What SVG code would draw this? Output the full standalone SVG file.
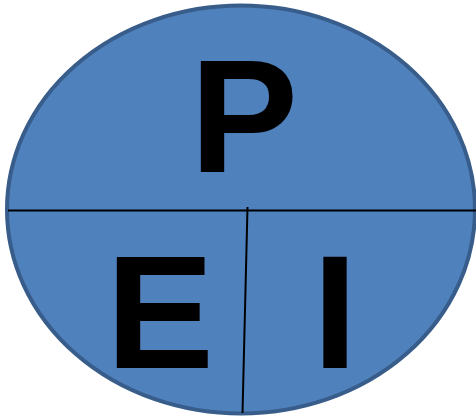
<svg xmlns="http://www.w3.org/2000/svg" width="476" height="417" viewBox="0 0 476 417">
<style>
.lbl{font-family:"Liberation Sans",Arial,sans-serif;font-weight:bold;font-size:162px;fill:#000}
.ln{stroke:#000;stroke-width:2;fill:none}
</style>
<rect width="476" height="417" fill="#fff"/>
<g id="circle">
<ellipse cx="241" cy="209.5" rx="234" ry="204" fill="#4F81BD" stroke="#385D8A" stroke-width="4"/>
</g>
<g id="connectors">
<line class="ln" x1="8" y1="210.5" x2="476" y2="210.5"/>
<line class="ln" x1="247.5" y1="207" x2="242.5" y2="413"/>
</g>
<g id="P"><text class="lbl" x="190" y="172">P</text></g>
<g id="E"><text class="lbl" x="106" y="368">E</text></g>
<g id="I"><text class="lbl" x="312.5" y="368">I</text></g>
</svg>
